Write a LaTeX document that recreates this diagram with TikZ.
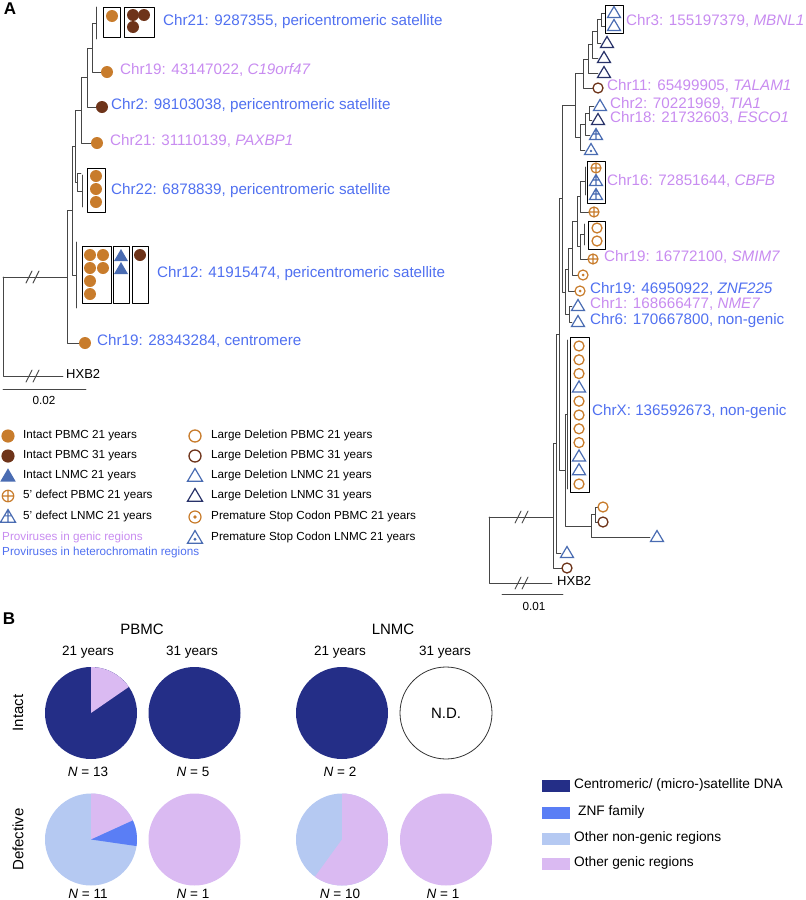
\documentclass[tikz,border=0pt]{standalone}
\usepackage{fontspec}
\setmainfont{Liberation Sans}

\definecolor{pbmcA}{RGB}{200,124,44}
\definecolor{pbmcB}{RGB}{110,52,26}
\definecolor{lnmcA}{RGB}{74,108,178}
\definecolor{lnmcB}{RGB}{40,50,105}
\definecolor{genpink}{RGB}{200,140,240}
\definecolor{hetblue}{RGB}{80,112,240}
\definecolor{treegray}{RGB}{70,70,70}
\definecolor{pienavy}{RGB}{36,46,135}
\definecolor{piepink}{RGB}{218,186,242}
\definecolor{pielight}{RGB}{181,201,242}
\definecolor{pieznf}{RGB}{90,126,245}

\tikzset{
  branch/.style={draw=treegray, line width=0.9pt},
  boxline/.style={draw=black, line width=0.9pt},
  lab/.style={anchor=mid west, inner sep=0pt, font=\fontsize{15.2}{18}\selectfont},
  genic/.style={lab, text=genpink},
  hetero/.style={lab, text=hetblue},
  leg/.style={anchor=mid west, inner sep=0pt, font=\fontsize{11.7}{14}\selectfont},
  panel/.style={inner sep=0pt, font=\fontsize{17}{20}\selectfont\bfseries},
  head/.style={inner sep=0pt, font=\fontsize{15}{18}\selectfont},
  yrs/.style={inner sep=0pt, font=\fontsize{13.5}{16}\selectfont},
  legb/.style={anchor=mid west, inner sep=0pt, font=\fontsize{13.7}{16}\selectfont},
  % markers
  pics/fdot/.style={code={\fill[#1] (0,0) circle (6pt);}},
  pics/ring/.style={code={\draw[#1, line width=1.3pt] (0,0) circle (5pt);}},
  pics/ringplus/.style={code={\draw[#1, line width=1.2pt] (0,0) circle (5pt) (-5,0) -- (5,0) (0,-5) -- (0,5);}},
  pics/ringdot/.style={code={\draw[#1, line width=1.2pt] (0,0) circle (5pt); \fill[#1] (0,0) circle (1.5pt);}},
  pics/ftri/.style={code={\fill[#1] (-7,5) -- (7,5) -- (0,-7) -- cycle;}},
  pics/otri/.style={code={\draw[#1, line width=1.2pt, line join=miter] (-6.5,4.5) -- (6.5,4.5) -- (0,-6.5) -- cycle;}},
  pics/crosstri/.style={code={\draw[#1, line width=1.2pt, line join=miter] (-6.5,4.5) -- (6.5,4.5) -- (0,-6.5) -- cycle (0,-6.5) -- (0,4.5) (-3.2,-1) -- (3.2,-1);}},
  pics/dottri/.style={code={\draw[#1, line width=1.2pt, line join=miter] (-6.5,4.5) -- (6.5,4.5) -- (0,-6.5) -- cycle; \fill[#1] (0,1) circle (1.4pt);}},
}

\begin{document}
\begin{tikzpicture}[x=1pt, y=-1pt, line join=round, line cap=round]

    \useasboundingbox (0,0) rectangle (806,900);

    % Panel letters
    \node[panel] (pA) at (10,9) {A};
    \node[panel] (pB) at (9,619) {B};

    % ---------- A, left tree ----------
    % tips
    \coordinate (la1) at (96,23);
    \coordinate (lc19) at (101,72);
    \coordinate (lc2) at (96,107);
    \coordinate (lpax) at (91,143);
    \coordinate (lc22t) at (81,173);
    \coordinate (lc22) at (82,191);
    \coordinate (lc12) at (76,275);
    \coordinate (lcen) at (79,343);
    % inner nodes
    \coordinate (la2) at (92,48);
    \coordinate (la3) at (87,77.5);
    \coordinate (la4) at (81,110);
    \coordinate (lb1) at (77,182);
    \coordinate (la5) at (75,146);
    \coordinate (la6) at (72,210.5);
    \coordinate (la7) at (67,277);
    \coordinate (lr) at (3,277);
    \coordinate (lh) at (63,376);

    % 1. branches
    \draw[branch] (96,7) -- (96,39);
    \draw[branch] (82,175) -- (82,207);
    \draw[branch] (76,242) -- (76,308);
    \draw[branch] (la2) |- (la1) (la2) |- (lc19);
    \draw[branch] (la3) |- (la2) (la3) |- (lc2);
    \draw[branch] (la4) |- (la3) (la4) |- (lpax);
    \draw[branch] (lb1) |- (lc22t) (lb1) |- (lc22);
    \draw[branch] (la5) |- (la4) (la5) |- (lb1);
    \draw[branch] (la6) |- (la5) (la6) |- (lc12);
    \draw[branch] (la7) |- (la6) (la7) |- (lcen);
    \draw[branch] (lr) -- (la7);
    \draw[branch] (lr) |- (lh);

    % 2. breaks
    \foreach \xx in {29,36} {
        \draw[branch] (\xx-3,283) -- (\xx+3,271);
        \draw[branch] (\xx-3,382) -- (\xx+3,370);
    }

    % 3. boxes and markers
    \draw[boxline] (103,7) rectangle (120,37);
    \draw[boxline] (124,7) rectangle (154,37);
    \pic at (112,16) {fdot=pbmcA};
    \foreach \xx/\yy in {133/15, 144/15, 133/27} \pic at (\xx,\yy) {fdot=pbmcB};
    \pic at (107,72) {fdot=pbmcA};
    \pic at (102,107) {fdot=pbmcB};
    \pic at (97,143) {fdot=pbmcA};
    \draw[boxline] (87,168) rectangle (105,212);
    \foreach \yy in {176,189,202} \pic at (96,\yy) {fdot=pbmcA};
    \draw[boxline] (82,246) rectangle (111,303);
    \draw[boxline] (113,246) rectangle (129,303);
    \draw[boxline] (132,246) rectangle (148,303);
    \foreach \xx/\yy in {90/255, 103/255, 90/268, 103/268, 90/281, 90/294} \pic at (\xx,\yy) {fdot=pbmcA};
    \foreach \yy in {256,269} \pic at (121,\yy) {ftri=lnmcA};
    \pic at (140,255) {fdot=pbmcB};
    \pic at (85,343) {fdot=pbmcA};

    % 4. labels
    \node[hetero] (t1) at (163,23) {Chr21: 9287355, pericentromeric satellite};
    \node[genic] (t2) at (120,72) {Chr19: 43147022, \textit{C19orf47}};
    \node[hetero] (t3) at (111,107) {Chr2: 98103038, pericentromeric satellite};
    \node[genic] (t4) at (110,143) {Chr21: 31110139, \textit{PAXBP1}};
    \node[hetero] (t5) at (111,192) {Chr22: 6878839, pericentromeric satellite};
    \node[hetero] (t6) at (157,275) {Chr12: 41915474, pericentromeric satellite};
    \node[hetero] (t7) at (97,343) {Chr19: 28343284, centromere};
    \node[anchor=mid west, inner sep=0pt, font=\fontsize{13}{15}\selectfont] (hx1) at (66,376) {HXB2};

    % scale bar
    \coordinate (sb1) at (3,389);
    \coordinate (sb2) at (86,389);
    \draw[branch] (sb1) -- (sb2);
    \node[inner sep=0pt, font=\fontsize{11.7}{14}\selectfont] (s1) at (44,400) {0.02};

    % ---------- A, right tree ----------
    % tips
    \coordinate (r1a) at (605,13);
    \coordinate (r1b) at (605,26);
    \coordinate (rL2) at (601,43);
    \coordinate (rL3) at (598,58);
    \coordinate (rL4) at (598,73);
    \coordinate (rL5) at (593,88);
    \coordinate (rL6) at (594,106);
    \coordinate (rL7) at (592,120);
    \coordinate (rL8) at (590,135);
    \coordinate (rL9) at (585,150);
    \coordinate (rn10) at (585,181);
    \coordinate (rL11) at (589,212);
    \coordinate (rn12) at (584,234.5);
    \coordinate (rL13) at (588,259);
    \coordinate (rL14) at (578,275);
    \coordinate (rL15) at (575,291);
    \coordinate (rL16) at (572,306);
    \coordinate (rL17) at (572,322);
    \coordinate (rcx) at (567,414);
    \coordinate (rL19a) at (598,507);
    \coordinate (rL19b) at (598,522);
    \coordinate (rL20) at (650,537);
    \coordinate (rL21) at (561,553);
    \coordinate (rL22) at (562,568);
    % inner nodes
    \coordinate (rn1) at (601,19.5);
    \coordinate (rn2) at (597,31);
    \coordinate (rn3) at (592,44.5);
    \coordinate (rn4) at (588,59);
    \coordinate (rn5) at (583,73.5);
    \coordinate (rn6) at (589,113);
    \coordinate (rn7) at (585,124);
    \coordinate (rn8) at (580,137);
    \coordinate (rn9) at (575,105);
    \coordinate (rn11) at (580,196);
    \coordinate (rn13) at (580,246.5);
    \coordinate (rn14) at (577,221);
    \coordinate (rn15) at (572,248);
    \coordinate (rn16) at (568,269.5);
    \coordinate (rn17) at (569,314);
    \coordinate (rn18) at (565,292);
    \coordinate (rn19) at (562,198.5);
    \coordinate (rn20a) at (595,514.5);
    \coordinate (rn20) at (591,526);
    \coordinate (rn21) at (565,470);
    \coordinate (rn22) at (559,334);
    \coordinate (rn23) at (556,443.5);
    \coordinate (rn24) at (553,517);
    \coordinate (rr) at (489,517);
    \coordinate (rh) at (552,583);

    % 1. branches
    \draw[branch] (585,167) -- (585,195);
    \draw[branch] (584,224) -- (584,245);
    \draw[branch] (567,340) -- (567,489);
    \draw[branch] (rn1) |- (r1a) (rn1) |- (r1b);
    \draw[branch] (rn2) |- (rn1) (rn2) |- (rL2);
    \draw[branch] (rn3) |- (rn2) (rn3) |- (rL3);
    \draw[branch] (rn4) |- (rn3) (rn4) |- (rL4);
    \draw[branch] (rn5) |- (rn4) (rn5) |- (rL5);
    \draw[branch] (rn6) |- (rL6) (rn6) |- (rL7);
    \draw[branch] (rn7) |- (rn6) (rn7) |- (rL8);
    \draw[branch] (rn8) |- (rn7) (rn8) |- (rL9);
    \draw[branch] (rn9) |- (rn5) (rn9) |- (rn8);
    \draw[branch] (rn11) |- (rn10) (rn11) |- (rL11);
    \draw[branch] (rn13) |- (rn12) (rn13) |- (rL13);
    \draw[branch] (rn14) |- (rn11) (rn14) |- (rn13);
    \draw[branch] (rn15) |- (rn14) (rn15) |- (rL14);
    \draw[branch] (rn16) |- (rn15) (rn16) |- (rL15);
    \draw[branch] (rn17) |- (rL16) (rn17) |- (rL17);
    \draw[branch] (rn18) |- (rn16) (rn18) |- (rn17);
    \draw[branch] (rn19) |- (rn9) (rn19) |- (rn18);
    \draw[branch] (rn20a) |- (rL19a) (rn20a) |- (rL19b);
    \draw[branch] (rn20) |- (rn20a) (rn20) |- (rL20);
    \draw[branch] (rn21) |- (rcx) (rn21) |- (rn20);
    \draw[branch] (rn22) |- (rn19) (rn22) |- (rn21);
    \draw[branch] (rn23) |- (rn22) (rn23) |- (rL21);
    \draw[branch] (rn24) |- (rn23) (rn24) |- (rL22);
    \draw[branch] (rr) -- (rn24);
    \draw[branch] (rr) |- (rh);

    % 2. breaks
    \foreach \xx in {518,525} {
        \draw[branch] (\xx-3,523) -- (\xx+3,511);
        \draw[branch] (\xx-3,589) -- (\xx+3,577);
    }

    % 3. boxes and markers
    \draw[boxline] (605,5) rectangle (623,33);
    \foreach \yy in {13,26} \pic at (614,\yy) {otri=lnmcA};
    \pic at (607,43) {otri=lnmcB};
    \pic at (604,58) {otri=lnmcB};
    \pic at (604,73) {otri=lnmcB};
    \pic at (598,88) {ring=pbmcB};
    \pic at (600,106) {otri=lnmcA};
    \pic at (598,120) {otri=lnmcB};
    \pic at (596,135) {crosstri=lnmcA};
    \pic at (591,150) {dottri=lnmcA};
    \draw[boxline] (587,161) rectangle (605,203);
    \pic at (596,168) {ringplus=pbmcA};
    \foreach \yy in {181,195} \pic at (596,\yy) {crosstri=lnmcA};
    \pic at (594,212) {ringplus=pbmcA};
    \draw[boxline] (588,221) rectangle (605,249);
    \foreach \yy in {228,241} \pic at (597,\yy) {ring=pbmcA};
    \pic at (593,259) {ringplus=pbmcA};
    \pic at (583,275) {ringdot=pbmcA};
    \pic at (580,291) {ringdot=pbmcA};
    \pic at (578,306) {otri=lnmcA};
    \pic at (578,322) {otri=lnmcA};
    \draw[boxline] (570,337) rectangle (589,492);
    \foreach \k in {0,1,2,4,5,6,7,10} \pic at (579,346+13.8*\k) {ring=pbmcA};
    \foreach \k in {3,8,9} \pic at (579,346+13.8*\k) {otri=lnmcA};
    \pic at (603,507) {ring=pbmcA};
    \pic at (603,522) {ring=pbmcB};
    \pic at (657,537) {otri=lnmcA};
    \pic at (567,553) {otri=lnmcA};
    \pic at (567,568) {ring=pbmcB};

    % 4. labels
    \node[genic] (u1) at (626,23) {Chr3: 155197379, \textit{MBNL1}};
    \node[genic] (u2) at (607,88) {Chr11: 65499905, \textit{TALAM1}};
    \node[genic] (u3) at (610,106) {Chr2: 70221969, \textit{TIA1}};
    \node[genic] (u4) at (610,120) {Chr18: 21732603, \textit{ESCO1}};
    \node[genic] (u5) at (607,183) {Chr16: 72851644, \textit{CBFB}};
    \node[genic] (u6) at (604,259) {Chr19: 16772100, \textit{SMIM7}};
    \node[hetero] (u7) at (590,291) {Chr19: 46950922, \textit{ZNF225}};
    \node[genic] (u8) at (590,306) {Chr1: 168666477, \textit{NME7}};
    \node[hetero] (u9) at (590,322) {Chr6: 170667800, non-genic};
    \node[hetero] (u10) at (592,413) {ChrX: 136592673, non-genic};
    \node[anchor=mid west, inner sep=0pt, font=\fontsize{13}{15}\selectfont] (hx2) at (557,583) {HXB2};

    % scale bar
    \coordinate (sb3) at (502,594);
    \coordinate (sb4) at (563,594);
    \draw[branch] (sb3) -- (sb4);
    \node[inner sep=0pt, font=\fontsize{11.7}{14}\selectfont] (s2) at (534,606) {0.01};

    % ---------- A, legend ----------
    \pic[scale=1.1] at (8,436) {fdot=pbmcA};
    \pic[scale=1.1] at (8,456) {fdot=pbmcB};
    \pic[scale=1.1] at (8,476) {ftri=lnmcA};
    \pic[scale=1.15] at (8,496) {ringplus=pbmcA};
    \pic[scale=1.15] at (8,517) {crosstri=lnmcA};
    \node[leg] (g1) at (23,436) {Intact PBMC 21 years};
    \node[leg] (g2) at (23,456) {Intact PBMC 31 years};
    \node[leg] (g3) at (23,476) {Intact LNMC 21 years};
    \node[leg] (g4) at (23,496) {5’ defect PBMC 21 years};
    \node[leg] (g5) at (23,517) {5’ defect LNMC 21 years};
    \node[leg, text=genpink] (g6) at (2,538) {Proviruses in genic regions};
    \node[leg, text=hetblue] (g7) at (2,553) {Proviruses in heterochromatin regions};

    \pic[scale=1.2] at (195,436) {ring=pbmcA};
    \pic[scale=1.2] at (195,456) {ring=pbmcB};
    \pic[scale=1.15] at (195,476) {otri=lnmcA};
    \pic[scale=1.15] at (195,496) {otri=lnmcB};
    \pic[scale=1.2] at (195,517) {ringdot=pbmcA};
    \pic[scale=1.15] at (195,538) {dottri=lnmcA};
    \node[leg] (h1) at (211,436) {Large Deletion PBMC 21 years};
    \node[leg] (h2) at (211,456) {Large Deletion PBMC 31 years};
    \node[leg] (h3) at (211,476) {Large Deletion LNMC 21 years};
    \node[leg] (h4) at (211,496) {Large Deletion LNMC 31 years};
    \node[leg] (h5) at (211,517) {Premature Stop Codon PBMC 21 years};
    \node[leg] (h6) at (211,538) {Premature Stop Codon LNMC 21 years};

    % ---------- B, pies ----------
    \coordinate (pa) at (91,713);
    \coordinate (pb) at (194.5,713);
    \coordinate (pc) at (342,713);
    \coordinate (pd) at (446,713);
    \coordinate (qa) at (91,839.5);
    \coordinate (qb) at (194.5,839.5);
    \coordinate (qc) at (342,839.5);
    \coordinate (qd) at (446,839.5);

    % intact
    \fill[pienavy] (pa) circle (46pt);
    \fill[piepink] (pa) -- ++(90:46pt) arc[start angle=90, end angle=34.6, radius=46pt] -- cycle;
    \fill[pienavy] (pb) circle (46pt);
    \fill[pienavy] (pc) circle (46pt);
    \draw[black!80, line width=0.8pt] (pd) circle (46pt);
    \node[head] (nd) at (pd) {N.D.};

    % defective
    \fill[pielight] (qa) circle (46pt);
    \fill[piepink] (qa) -- ++(90:46pt) arc[start angle=90, end angle=24.5, radius=46pt] -- cycle;
    \fill[pieznf] (qa) -- ++(24.5:46pt) arc[start angle=24.5, end angle=-8.2, radius=46pt] -- cycle;
    \fill[piepink] (qb) circle (46pt);
    \fill[pielight] (qc) circle (46pt);
    \fill[piepink] (qc) -- ++(90:46pt) arc[start angle=90, end angle=-126, radius=46pt] -- cycle;
    \fill[piepink] (qd) circle (46pt);

    % headings
    \node[head] (hp) at (142,629) {PBMC};
    \node[head] (hl) at (393,629) {LNMC};
    \node[yrs] (y1) at (88,652) {21 years};
    \node[yrs] (y2) at (192,652) {31 years};
    \node[yrs] (y3) at (340,652) {21 years};
    \node[yrs] (y4) at (445,652) {31 years};
    \node[head, rotate=90] (ri) at (18,713) {Intact};
    \node[head, rotate=90] (rd) at (18,839.5) {Defective};

    % counts
    \node[yrs] (n1) at (88,772) {\textit{N} = 13};
    \node[yrs] (n2) at (193,772) {\textit{N} = 5};
    \node[yrs] (n3) at (340,772) {\textit{N} = 2};
    \node[yrs] (n4) at (88,894) {\textit{N} = 11};
    \node[yrs] (n5) at (193,894) {\textit{N} = 1};
    \node[yrs] (n6) at (340,894) {\textit{N} = 10};
    \node[yrs] (n7) at (443,894) {\textit{N} = 1};

    % legend
    \fill[pienavy] (542,780) rectangle (570,792);
    \fill[pieznf] (542,807) rectangle (570,819);
    \fill[pielight] (542,833) rectangle (570,845);
    \fill[piepink] (542,858) rectangle (570,870);
    \node[legb] (k1) at (574,786) {Centromeric/ (micro-)satellite DNA};
    \node[legb] (k2) at (578,813) {ZNF family};
    \node[legb] (k3) at (574,839) {Other non-genic regions};
    \node[legb] (k4) at (574,864) {Other genic regions};

\end{tikzpicture}
\end{document}
